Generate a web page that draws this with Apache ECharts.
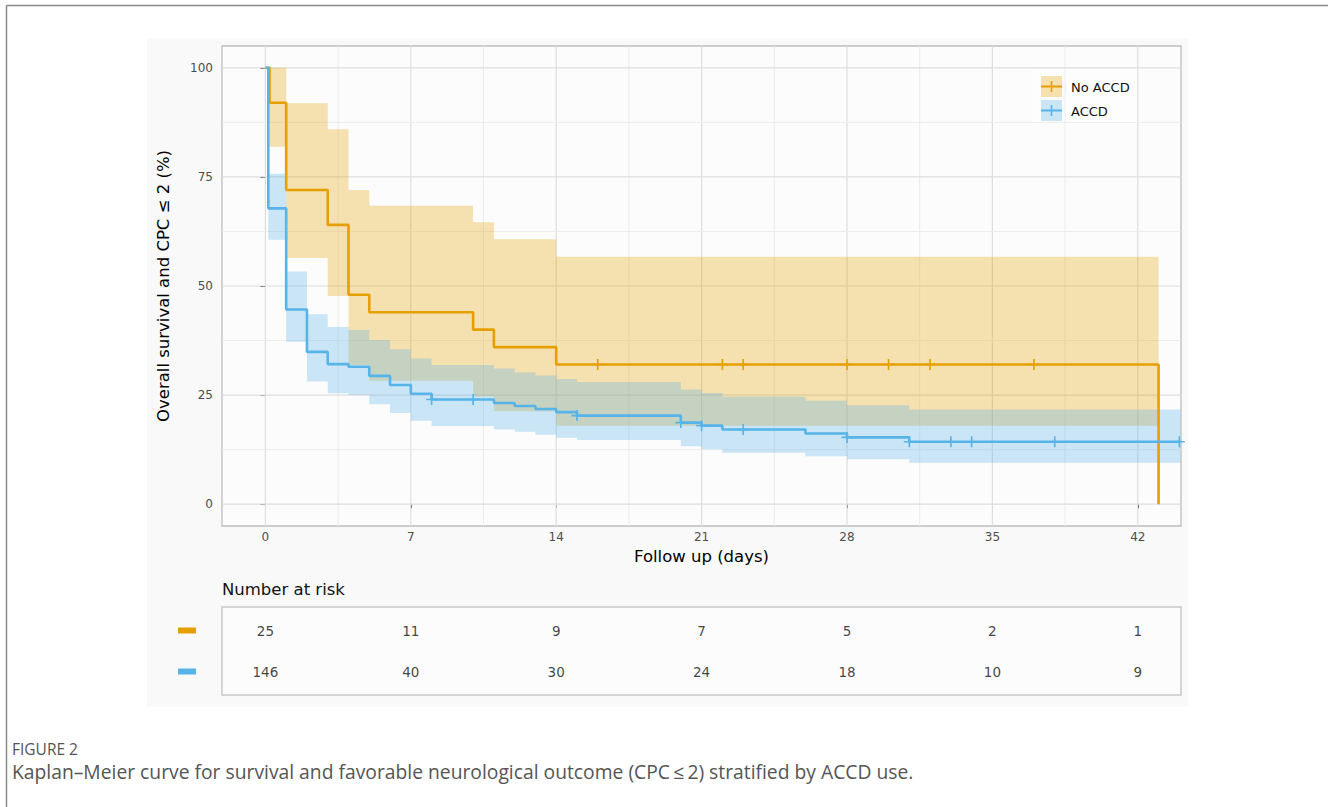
<!DOCTYPE html>
<html><head><meta charset="utf-8">
<script src="https://cdn.jsdelivr.net/npm/echarts@6/dist/echarts.min.js"></script>
<style>html,body{margin:0;padding:0;background:#fff}#c{width:1328px;height:807px}</style>
</head><body><div id="c"></div>
<script>
// ---- data ----
const groupNames = ['No ACCD', 'ACCD'];

const noAccdTimes = [0, 0.2, 1, 3, 4, 5, 10, 11, 14, 43];
const noAccdSurv  = [100, 92, 72, 64, 48, 44, 40, 36, 32, 0];
const noAccdCiTimes = [0.2, 1, 3, 4, 5, 10, 11, 14];
const noAccdCiEnd = 43;
const noAccdUpper = [100, 91.9, 85.9, 72.0, 68.4, 64.6, 60.7, 56.7];
const noAccdLower = [81.9, 56.4, 47.7, 31.9, 28.3, 24.7, 21.3, 18.0];
const noAccdCensor = [16, 22, 23, 28, 30, 32, 37];

const accdTimes = [0, 0.14, 1, 2, 3, 4, 5, 6, 7, 8, 11, 12, 13, 14, 15, 20, 21, 22, 26, 28, 31, 44.05];
const accdSurv  = [100, 67.8, 44.6, 34.9, 32.1, 31.5, 29.4, 27.3, 25.3, 24.0, 23.2, 22.5, 21.8, 21.1, 20.3, 18.7, 18.0, 17.1, 16.2, 15.3, 14.3, 14.3];
const accdCiTimes = [0.14, 1, 2, 3, 4, 5, 6, 7, 8, 11, 12, 13, 14, 15, 20, 21, 22, 26, 28, 31];
const accdCiEnd = 44.05;
const accdUpper = [75.7, 53.3, 43.5, 40.6, 39.9, 37.6, 35.5, 33.4, 31.9, 31.1, 30.2, 29.5, 28.7, 28.0, 26.3, 25.5, 24.6, 23.7, 22.7, 21.7];
const accdLower = [60.6, 37.2, 28.1, 25.4, 25.0, 22.9, 20.9, 19.1, 17.9, 17.1, 16.6, 15.9, 15.2, 14.7, 13.3, 12.6, 11.8, 11.0, 10.3, 9.5];
const accdCensor = [8, 10, 15, 20, 21, 23, 28, 31, 33, 34, 38, 44];

const xTicks = [0, 7, 14, 21, 28, 35, 42];
const xMinor = [3.5, 10.5, 17.5, 24.5, 31.5, 38.5];
const yTicks = [0, 25, 50, 75, 100];
const yMinor = [12.5, 37.5, 62.5, 87.5];

const riskTimes = [0, 7, 14, 21, 28, 35, 42];
const riskNoAccd = [25, 11, 9, 7, 5, 2, 1];
const riskAccd = [146, 40, 30, 24, 18, 10, 9];

// ---- layout / style ----
const X_MIN = -2.09, X_MAX = 44.08, Y_MIN = -5, Y_MAX = 105;
const ORANGE = '#E69F00', BLUE = '#56B4E9';
const ORANGE_BAND = 'rgba(230,159,0,0.3)', BLUE_BAND = 'rgba(86,180,233,0.3)';
const FONT = 'DejaVu Sans';

function stepValue(times, surv, t) {
  let v = surv[0];
  for (let i = 0; i < times.length; i++) { if (times[i] <= t) v = surv[i]; }
  return v;
}
function bandRender(times, lo, hi, endT, fill) {
  return function (params, api) {
    const up = [], dn = [];
    for (let i = 0; i < times.length; i++) {
      const t1 = i + 1 < times.length ? times[i + 1] : endT;
      up.push(api.coord([times[i], hi[i]]), api.coord([t1, hi[i]]));
      dn.push(api.coord([times[i], lo[i]]), api.coord([t1, lo[i]]));
    }
    return { type: 'polygon', shape: { points: up.concat(dn.reverse()) }, style: { fill: fill } };
  };
}
const gridData = [];
xTicks.forEach(v => gridData.push([v, 0, 1]));
xMinor.forEach(v => gridData.push([v, 0, 0]));
yTicks.forEach(v => gridData.push([v, 1, 1]));
yMinor.forEach(v => gridData.push([v, 1, 0]));

const PLUS = 'path://M-1.5,-10h3v20h-3zM-10,-1.5h20v3h-20z';

const chart = echarts.init(document.getElementById('c'), null, { renderer: 'svg' });
chart.setOption({
  animation: false,
  backgroundColor: '#ffffff',
  grid: [
    { left: 222, top: 46, width: 959, height: 480, show: true, backgroundColor: '#fcfcfc', borderColor: '#bdbdbd', borderWidth: 1.3 },
    { left: 222, top: 610, width: 959, height: 82, show: false }
  ],
  xAxis: [
    { type: 'value', gridIndex: 0, min: X_MIN, max: X_MAX,
      name: 'Follow up (days)', nameLocation: 'middle', nameGap: 22,
      nameTextStyle: { fontFamily: FONT, fontSize: 16.5, color: '#000' },
      axisLine: { show: false },
      axisTick: { show: true, length: 4, customValues: xTicks, lineStyle: { color: '#333', width: 1 } },
      axisLabel: { customValues: xTicks, margin: 5, fontFamily: FONT, fontSize: 12, color: '#4d4d4d' },
      splitLine: { show: false } },
    { type: 'value', gridIndex: 1, min: X_MIN, max: X_MAX, show: false }
  ],
  yAxis: [
    { type: 'value', gridIndex: 0, min: Y_MIN, max: Y_MAX,
      name: 'Overall survival and CPC \u2264 2 (%)', nameLocation: 'middle', nameGap: 50,
      nameTextStyle: { fontFamily: FONT, fontSize: 16.5, color: '#000' },
      axisLine: { show: false },
      axisTick: { show: true, length: 5, customValues: yTicks, lineStyle: { color: '#333', width: 1 } },
      axisLabel: { customValues: yTicks, margin: 9, fontFamily: FONT, fontSize: 12, color: '#4d4d4d' },
      splitLine: { show: false } },
    { type: 'category', gridIndex: 1, data: groupNames, inverse: true,
      axisLine: { show: false }, axisTick: { show: false }, splitLine: { show: false },
      axisLabel: { margin: 26, formatter: v => v === groupNames[0] ? '{o| }' : '{b| }',
        rich: { o: { backgroundColor: ORANGE, width: 18, height: 6 }, b: { backgroundColor: BLUE, width: 18, height: 6 } } } }
  ],
  series: [
    { type: 'custom', xAxisIndex: 0, yAxisIndex: 0, silent: true, data: gridData,
      renderItem: function (params, api) {
        const v = api.value(0), d = api.value(1), m = api.value(2);
        const p1 = d === 0 ? api.coord([v, Y_MIN]) : api.coord([X_MIN, v]);
        const p2 = d === 0 ? api.coord([v, Y_MAX]) : api.coord([X_MAX, v]);
        return { type: 'line', shape: { x1: p1[0], y1: p1[1], x2: p2[0], y2: p2[1] },
          style: { stroke: m ? '#dedede' : '#ececec', lineWidth: m ? 1.2 : 1 } };
      } },
    { name: groupNames[0], type: 'line', step: 'end', symbol: 'none', silent: true,
      data: noAccdTimes.map((t, i) => [t, noAccdSurv[i]]),
      lineStyle: { color: ORANGE, width: 2.6 }, itemStyle: { color: ORANGE } },
    { name: groupNames[1], type: 'line', step: 'end', symbol: 'none', silent: true,
      data: accdTimes.map((t, i) => [t, accdSurv[i]]),
      lineStyle: { color: BLUE, width: 2.6 }, itemStyle: { color: BLUE } },
    { type: 'custom', silent: true, data: [[0, 0]],
      renderItem: bandRender(noAccdCiTimes, noAccdLower, noAccdUpper, noAccdCiEnd, ORANGE_BAND) },
    { type: 'custom', silent: true, data: [[0, 0]],
      renderItem: bandRender(accdCiTimes, accdLower, accdUpper, accdCiEnd, BLUE_BAND) },
    { type: 'scatter', silent: true, symbol: PLUS, symbolSize: 11,
      data: noAccdCensor.map(t => [t, stepValue(noAccdTimes, noAccdSurv, t)]),
      itemStyle: { color: ORANGE, opacity: 1 } },
    { type: 'scatter', silent: true, symbol: PLUS, symbolSize: 11,
      data: accdCensor.map(t => [t, stepValue(accdTimes, accdSurv, t)]),
      itemStyle: { color: BLUE, opacity: 1 } },
    { type: 'scatter', xAxisIndex: 1, yAxisIndex: 1, silent: true, symbolSize: 1,
      itemStyle: { color: 'transparent' },
      data: riskTimes.map((t, i) => [t, groupNames[0], riskNoAccd[i]])
        .concat(riskTimes.map((t, i) => [t, groupNames[1], riskAccd[i]])),
      label: { show: true, position: 'inside', formatter: p => String(p.value[2]),
        fontFamily: FONT, fontSize: 13.5, color: '#111' } }
  ],
  graphic: [
    { type: 'rect', z: -10, silent: true, shape: { x: 147, y: 39, width: 1041, height: 668 }, style: { fill: '#f9f9f9' } },
    { type: 'rect', z: -9, silent: true, shape: { x: 222, y: 607, width: 959, height: 88 }, style: { fill: '#fcfcfc', stroke: '#c8c8c8', lineWidth: 1.5 } },
    { type: 'text', z: 5, silent: true, style: { text: 'Number at risk', x: 222, y: 589, font: '16.5px "DejaVu Sans"', fill: '#111', textVerticalAlign: 'middle', verticalAlign: 'middle' } },
    { type: 'line', z: 5, silent: true, shape: { x1: 6.5, y1: 5.5, x2: 1328, y2: 5.5 }, style: { stroke: '#8a8a8a', lineWidth: 1.5 } },
    { type: 'line', z: 5, silent: true, shape: { x1: 6.5, y1: 5.5, x2: 6.5, y2: 807 }, style: { stroke: '#8a8a8a', lineWidth: 1.5 } },
    { type: 'text', z: 5, silent: true, style: { text: 'FIGURE 2', x: 12, y: 749, font: '15.5px "Open Sans"', fill: '#555', textVerticalAlign: 'middle', verticalAlign: 'middle' } },
    { type: 'text', z: 5, silent: true, style: { text: 'Kaplan\u2013Meier curve for survival and favorable neurological outcome (CPC\u2009\u2264\u20092) stratified by ACCD use.', x: 12, y: 771.5, font: '19.3px "Open Sans"', fill: '#555', textVerticalAlign: 'middle', verticalAlign: 'middle' } },
    // legend
    { type: 'group', z: 100, silent: true, children: [
      { type: 'rect', shape: { x: 1032, y: 68, width: 108, height: 54 }, style: { fill: '#fdfdfd' } },
      { type: 'rect', shape: { x: 1041, y: 76, width: 21, height: 21 }, style: { fill: ORANGE_BAND } },
      { type: 'line', shape: { x1: 1041, y1: 86.5, x2: 1062, y2: 86.5 }, style: { stroke: ORANGE, lineWidth: 2 } },
      { type: 'line', shape: { x1: 1051.5, y1: 81, x2: 1051.5, y2: 92 }, style: { stroke: ORANGE, lineWidth: 1.6 } },
      { type: 'text', style: { text: groupNames[0], x: 1071, y: 87, font: '13px "DejaVu Sans"', fill: '#111', textVerticalAlign: 'middle', verticalAlign: 'middle' } },
      { type: 'rect', shape: { x: 1041, y: 100, width: 21, height: 21 }, style: { fill: BLUE_BAND } },
      { type: 'line', shape: { x1: 1041, y1: 110.5, x2: 1062, y2: 110.5 }, style: { stroke: BLUE, lineWidth: 2 } },
      { type: 'line', shape: { x1: 1051.5, y1: 105, x2: 1051.5, y2: 116 }, style: { stroke: BLUE, lineWidth: 1.6 } },
      { type: 'text', style: { text: groupNames[1], x: 1071, y: 111, font: '13px "DejaVu Sans"', fill: '#111', textVerticalAlign: 'middle', verticalAlign: 'middle' } }
    ] }
  ]
});
</script></body></html>
